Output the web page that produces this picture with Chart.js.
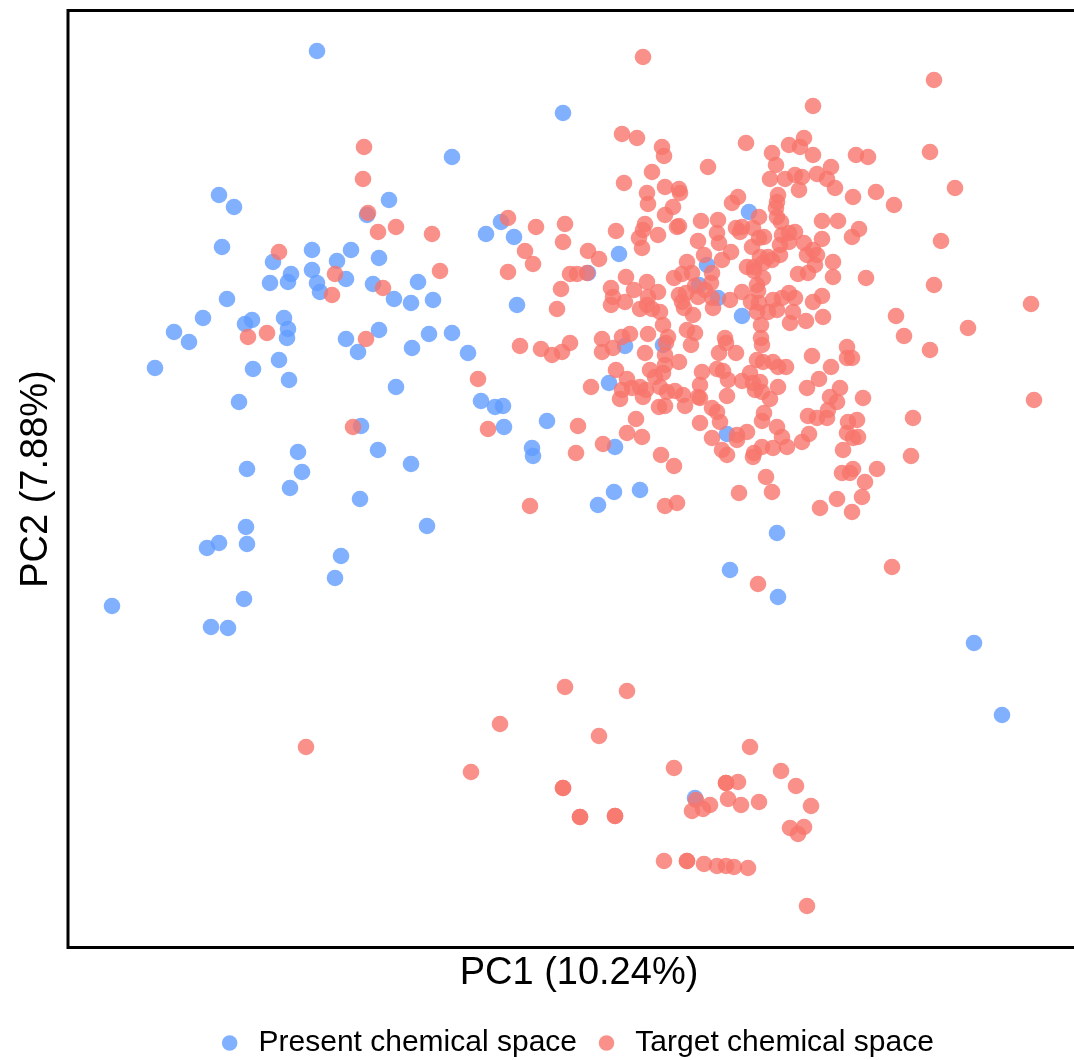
<!DOCTYPE html>
<html>
<head>
<meta charset="utf-8">
<script src="https://cdn.jsdelivr.net/npm/chart.js@4.4.0/dist/chart.umd.min.js"></script>
<style>
  html, body { margin: 0; padding: 0; background: #fff; overflow: hidden; }
  #wrap { width: 1074px; height: 1060px; overflow: hidden; }
</style>
</head>
<body>
<div id="wrap"><canvas id="pca" width="1100" height="1068"></canvas></div>
<script>
// PCA scores, in panel units (x grows right, y grows down)
const presentPoints = [
  [317,51],[219,195],[234,207],[389,200],[367,215],
  [222,247],[273,262],[312,250],[337,261],[351,250],[379,258],
  [291,274],[288,282],[270,283],[312,270],[346,279],[317,283],[320,292],[373,284],[394,299],[227,299],
  [203,318],[252,320],[245,324],[284,318],
  [174,332],[189,342],[288,329],[287,338],[346,339],[379,330],[358,352],
  [155,368],[253,369],[279,360],[289,380],[396,387],[239,402],
  [361,426],[298,452],[378,450],[247,469],[302,472],[290,488],[360,499],
  [246,527],[219,543],[207,548],[247,544],[341,556],[335,578],[112,606],[244,599],[211,627],[228,628],
  [563,113],[452,157],[501,222],[486,234],[514,237],
  [418,282],[411,303],[433,300],[517,305],
  [412,348],[429,334],[452,333],[468,353],
  [481,401],[495,407],[503,406],[504,427],[547,421],[532,448],[533,456],[411,464],[427,526],
  [619,254],[588,273],[707,265],[699,285],[718,298],[742,316],[749,212],
  [625,346],[663,345],[609,383],[615,447],[727,434],[614,492],[640,490],[598,505],
  [777,533],[730,570],[778,597],[974,643],[1002,715],[695,798]
];

const targetPoints = [
  [364,147],[363,179],[368,213],[378,232],[396,227],[279,252],[335,274],[332,295],[383,288],
  [248,337],[267,333],[366,339],[353,427],[306,747],
  [432,234],[508,218],[536,227],[525,251],[533,264],[440,271],[508,272],[557,309],[561,289],
  [520,346],[541,349],[552,355],[562,352],[570,343],[478,379],[488,429],[578,426],[576,453],[530,506],
  [643,57],[622,134],[637,138],[662,147],[664,156],[746,143],[772,153],[789,145],[800,147],[804,138],
  [813,155],[856,155],[868,157],[813,106],
  [708,167],[652,172],[776,165],[770,179],[785,179],[795,175],[802,177],[817,174],[831,167],[827,179],
  [835,188],[799,190],[624,183],[647,193],[648,204],[665,187],[679,189],[680,193],[673,207],[665,215],
  [853,197],[876,192],[894,205],[738,197],[732,203],
  [778,195],[777,202],[776,208],[777,217],[781,222],[759,217],[822,221],[838,221],[859,229],[852,237],
  [565,224],[563,242],[616,231],[645,224],[643,230],[639,238],[642,248],[658,235],[679,226],[677,227],
  [701,221],[718,220],[717,233],[736,228],[742,227],[740,232],[753,228],[698,241],[719,243],[759,238],
  [764,237],[752,247],[782,235],[789,233],[795,232],[789,242],[780,245],[804,243],[822,239],[813,250],
  [817,255],[833,262],
  [588,251],[599,259],[704,255],[731,252],[722,260],[760,257],[768,257],[763,263],[754,267],[780,255],
  [772,260],[747,267],[807,255],[815,265],[808,273],[798,274],[833,277],[866,278],[687,262],[712,273],
  [711,283],[674,278],[682,274],[692,273],[695,286],[705,290],[712,298],[686,293],[679,295],[682,302],
  [698,297],
  [570,274],[577,274],[587,273],[626,277],[647,282],[611,288],[613,297],[611,305],[634,290],[658,292],
  [625,302],[648,297],[647,305],[640,309],[652,309],[660,312],[684,308],[693,315],[730,300],[742,292],
  [713,308],
  [754,271],[763,278],[757,285],[758,291],[751,302],[759,303],[757,312],[768,312],[777,310],[773,300],
  [782,298],[789,293],[795,298],[813,302],[822,296],[793,312],
  [602,339],[602,352],[613,348],[622,337],[630,334],[663,325],
  [648,334],[668,337],[666,343],[645,353],[665,355],[665,365],[663,373],[679,362],[687,330],[695,333],
  [691,345],[761,325],[761,338],[762,345],[790,323],[806,321],[823,317],
  [725,338],[726,343],[719,353],[736,353],
  [702,372],[717,369],[723,371],
  [616,370],[591,387],
  [627,379],[632,388],[622,390],[640,387],[646,390],[643,397],[620,399],
  [650,370],[655,377],[660,387],[667,392],[675,391],[683,395],[659,407],[665,406],[685,406],
  [700,385],[698,397],[700,398],
  [728,380],[727,396],[742,381],
  [750,373],[757,360],[763,362],[773,362],[778,367],[786,367],
  [753,383],[760,382],[755,390],[762,392],[770,399],[764,413],[762,421],[778,387],
  [712,408],[717,412],[720,422],[700,423],[712,438],
  [737,435],[737,440],[747,432],[722,450],[727,455],
  [753,457],[754,453],[762,447],[773,448],[787,447],
  [777,427],[782,437],[802,442],[809,434],
  [808,416],[817,418],[827,418],[828,410],[830,397],[837,402],[840,388],
  [807,388],[819,379],[831,367],[812,356],
  [847,347],[847,358],[852,358],[863,398],
  [848,422],[857,420],[847,433],[853,438],[858,437],[843,450],
  [842,473],[850,473],[853,469],[865,482],[877,469],[862,497],[837,499],[852,512],[820,508],[739,493],
  [766,477],[772,492],
  [603,444],[636,419],[627,433],[642,437],[661,455],[674,466],
  [665,506],[677,503],
  [934,80],[930,152],[955,188],[941,241],[934,285],[1031,304],
  [896,316],[904,336],[930,350],[968,328],[1034,400],[913,418],[911,456],
  [892,567],[758,584],
  [565,687],[627,691],[500,724],[599,736],[471,772],[563,788],[563,788],[580,817],[580,817],[615,816],
  [615,816],[674,768],
  [726,783],[726,783],[738,782],[728,799],[741,805],[696,800],[692,811],[703,809],[710,805],
  [750,747],[781,771],[796,786],[759,802],[811,806],[790,828],[804,827],[798,834],
  [664,861],[687,861],[687,861],[704,864],[717,866],[726,866],[734,867],[748,868],[807,906]
];

const seriesNames = ['Present chemical space', 'Target chemical space'];
const seriesColors = ['rgba(97,156,255,0.8)', 'rgba(248,118,109,0.8)'];
const pc1Title = 'PC1 (10.24%)';
const pc2Title = 'PC2 (7.88%)';

const FONT = '"Liberation Sans", Arial, Helvetica, sans-serif';

function toXY(points) {
  return points.map(p => ({ x: p[0], y: p[1] }));
}

// black frame round the panel (its right side falls outside the page)
const panelFrame = {
  id: 'panelFrame',
  afterDatasetsDraw(chart) {
    const { ctx, chartArea: a } = chart;
    ctx.save();
    ctx.strokeStyle = '#000';
    ctx.lineWidth = 3;
    ctx.strokeRect(a.left, a.top, a.right - a.left, a.bottom - a.top);
    ctx.restore();
  }
};

new Chart(document.getElementById('pca'), {
  type: 'scatter',
  data: {
    datasets: [
      {
        label: seriesNames[0],
        data: toXY(presentPoints),
        backgroundColor: seriesColors[0],
        borderWidth: 0,
        pointRadius: 8.3,
        order: 2
      },
      {
        label: seriesNames[1],
        data: toXY(targetPoints),
        backgroundColor: seriesColors[1],
        borderWidth: 0,
        pointRadius: 8.3,
        order: 1
      }
    ]
  },
  options: {
    responsive: false,
    animation: false,
    layout: { padding: { top: 10.5, left: 14.2, right: 10, bottom: 0 } },
    plugins: {
      tooltip: { enabled: false },
      legend: {
        position: 'bottom',
        fullSize: false,
        labels: {
          usePointStyle: true,
          pointStyle: 'circle',
          boxWidth: 11,
          boxHeight: 11,
          padding: 24,
          color: '#000',
          font: { family: FONT, size: 30 },
          // keep legend in dataset order, not draw order
          sort: (a, b) => a.datasetIndex - b.datasetIndex,
          generateLabels(chart) {
            return Chart.defaults.plugins.legend.labels.generateLabels(chart)
              .map(item => ({ ...item, text: ' ' + item.text }));
          }
        }
      }
    },
    scales: {
      x: {
        type: 'linear',
        min: 68,
        max: 1090,
        grid: { display: false, drawTicks: false },
        border: { display: false },
        ticks: { display: false },
        title: {
          display: true,
          text: pc1Title,
          color: '#000',
          font: { family: FONT, size: 38 },
          padding: { top: 3.7, bottom: 7.2 }
        }
      },
      y: {
        type: 'linear',
        reverse: true,
        min: 10.5,
        max: 947.5,
        grid: { display: false, drawTicks: false },
        border: { display: false },
        ticks: { display: false },
        title: {
          display: true,
          text: pc2Title,
          color: '#000',
          font: { family: FONT, size: 38 },
          padding: { top: 0, bottom: 8.2 }
        }
      }
    }
  },
  plugins: [panelFrame]
});
</script>
</body>
</html>
